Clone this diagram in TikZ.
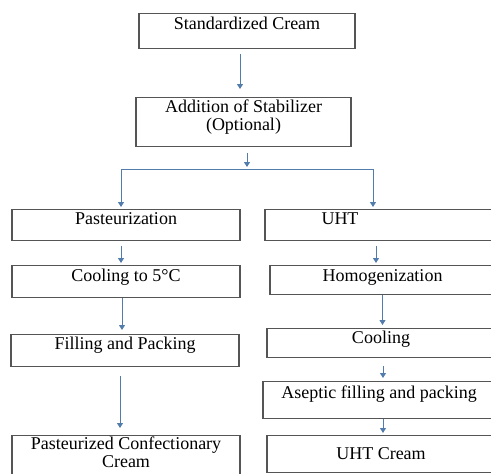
\documentclass[tikz,border=0pt]{standalone}
\usepackage{fontspec}
\setmainfont{Liberation Serif}
\usetikzlibrary{arrows.meta}
\definecolor{boxgray}{RGB}{85,85,85}
\definecolor{arrowblue}{RGB}{82,124,172}
\begin{document}
\begin{tikzpicture}[x=1pt, y=-1pt,
        stepbox/.style={draw=boxgray, line width=1.2pt, anchor=north, inner xsep=0pt, inner ysep=0pt,
            minimum height=0pt, align=center, font=\fontsize{18}{18}\selectfont},
        flow/.style={-{Triangle[width=6pt,length=5pt]}, arrowblue, line width=1pt}]
        \useasboundingbox (0,0) rectangle (491,474);
        \clip (0,0) rectangle (491,474);
        % top of the chart
        \node[stepbox, minimum width=216pt, text height=16pt, text depth=19pt] (cream) at (247,13) {Standardized Cream};
        \node[stepbox, minimum width=215pt, text height=33pt, text depth=16pt] (stab) at (243.5,97) {Addition of Stabilizer\\(Optional)};
        % left branch
        \node[stepbox, minimum width=228pt, text height=15pt, text depth=16pt] (past) at (126,209) {Pasteurization};
        \node[stepbox, minimum width=228pt, text height=16pt, text depth=16pt] (cool5) at (126,265) {Cooling to 5\textdegree C};
        \node[stepbox, minimum width=228pt, text height=15pt, text depth=17pt] (fill) at (125,334) {Filling and Packing};
        \node[stepbox, minimum width=228pt, text height=32pt, text depth=13pt] (pcc) at (126,435) {Pasteurized Confectionary\\Cream};
        % right branch
        \node[stepbox, minimum width=230pt, text height=15pt, text depth=16pt] (uht) at (380,209) {UHT\hspace*{80pt}};
        \node[stepbox, minimum width=225pt, text height=16pt, text depth=13pt] (homog) at (382.5,265) {Homogenization};
        \node[stepbox, minimum width=228pt, text height=15pt, text depth=14pt] (cool) at (381,328) {Cooling};
        \node[stepbox, minimum width=232pt, text height=17pt, text depth=20pt] (asep) at (379,381) {Aseptic filling and packing};
        \node[stepbox, minimum width=228pt, text height=24pt, text depth=13pt] (uhtc) at (381,435) {UHT Cream};
        % arrows
        \coordinate (split) at (247,169);
        \draw[flow, shorten <=5pt, shorten >=8pt] ([xshift=-7pt]cream.south) -- ([xshift=-7pt]cream.south |- stab.north);
        \draw[flow, shorten <=6pt, shorten >=2pt] ([xshift=3.5pt]stab.south) -- (split);
        \draw[flow, shorten >=2pt] (split) -| ([xshift=-5pt]past.north);
        \draw[flow, shorten >=2pt] (split) -| ([xshift=-7pt]uht.north);
        \draw[flow, shorten <=5pt, shorten >=2pt] ([xshift=-5pt]past.south) -- ([xshift=-5pt]past.south |- cool5.north);
        \draw[flow, shorten >=4pt] ([xshift=-4pt]cool5.south) -- ([xshift=-4pt]cool5.south |- fill.north);
        \draw[flow, shorten <=9pt, shorten >=7pt] ([xshift=-5pt]fill.south) -- ([xshift=-5pt]fill.south |- pcc.north);
        \draw[flow, shorten <=5pt, shorten >=2pt] ([xshift=-4pt]uht.south) -- ([xshift=-4pt]uht.south |- homog.north);
        \draw[flow, shorten >=3pt] (homog.south) -- (homog.south |- cool.north);
        \draw[flow, shorten <=8pt, shorten >=3pt] ([xshift=2pt]cool.south) -- ([xshift=2pt]cool.south |- asep.north);
        \draw[flow, shorten >=2pt] ([xshift=4pt]asep.south) -- ([xshift=4pt]asep.south |- uhtc.north);
    \end{tikzpicture}
\end{document}
